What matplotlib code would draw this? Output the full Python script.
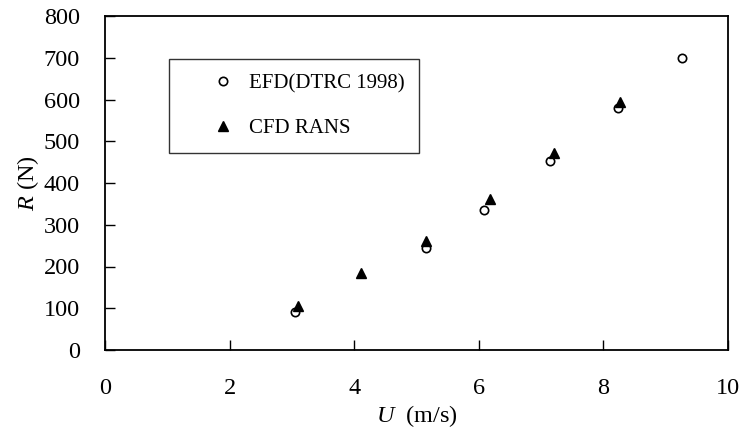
import numpy as np
import matplotlib.pyplot as plt

plt.rcParams['font.family'] = ['Liberation Serif', 'DejaVu Serif']
plt.rcParams['mathtext.fontset'] = 'custom'
plt.rcParams['mathtext.rm'] = 'Liberation Serif'
plt.rcParams['mathtext.it'] = 'Liberation Serif:italic'

# 试验数据 (EFD) 与 CFD 结果
efd_u = [3.05, 5.15, 6.08, 7.14, 8.24, 9.26]
efd_r = [91, 244, 335, 452, 580, 700]
cfd_u = [3.09, 4.11, 5.16, 6.18, 7.20, 8.26]
cfd_r = [105, 184, 262, 361, 472, 593]

fig = plt.figure(figsize=(7.41, 4.30), dpi=100)
ax = fig.add_axes([105/741, 1-350/430, 623/741, 334/430])

ax.plot(efd_u, efd_r, 'o', mfc='white', mec='black', mew=1.2, ms=6,
        label='EFD(DTRC 1998)', linestyle='none')
ax.plot(cfd_u, cfd_r, '^', color='black', ms=7.5,
        label='CFD RANS', linestyle='none')

ax.set_xlim(0, 10)
ax.set_ylim(0, 800)
ax.set_xticks(np.arange(0, 11, 2))
ax.set_yticks(np.arange(0, 801, 100))
ax.tick_params(direction='in', length=7, width=1, labelsize=17.5,
               top=False, right=False)
ax.tick_params(axis='x', pad=20)
ax.tick_params(axis='y', pad=18)
for s in ax.spines.values():
    s.set_linewidth(1.3)

ax.set_xlabel('$U$  (m/s)', fontsize=17.5, labelpad=3)
ax.set_ylabel('$R$ (N)', fontsize=17.5, labelpad=2)

leg = ax.legend(loc='upper left', bbox_to_anchor=(0.103, 0.871), borderaxespad=0,
                fontsize=15, frameon=True, fancybox=False, labelspacing=1.21,
                borderpad=0.7, handlelength=3.8, handletextpad=-0.68)
leg.get_frame().set_edgecolor('black')
leg.get_frame().set_linewidth(1)

fig.savefig('out.png', dpi=100)
